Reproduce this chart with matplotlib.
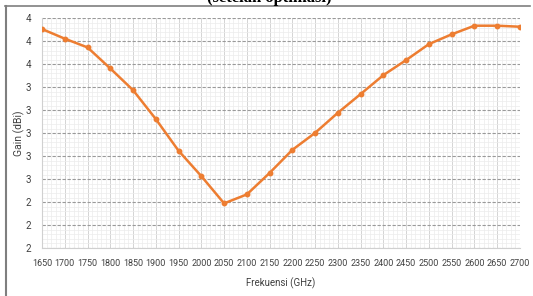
import matplotlib.pyplot as plt
from matplotlib.ticker import MultipleLocator, AutoMinorLocator, FormatStrFormatter
from matplotlib.lines import Line2D

# gain antena setelah optimasi
freq = [1650, 1700, 1750, 1800, 1850, 1900, 1950, 2000, 2050, 2100, 2150,
        2200, 2250, 2300, 2350, 2400, 2450, 2500, 2550, 2600, 2650, 2700]
gain = [3.907, 3.823, 3.747, 3.564, 3.375, 3.123, 2.847, 2.626, 2.389, 2.467, 2.654,
        2.855, 3.003, 3.178, 3.341, 3.506, 3.637, 3.776, 3.861, 3.936, 3.936, 3.927]

plt.rcParams['font.family'] = ['Roboto', 'DejaVu Sans']

fig = plt.figure(figsize=(5.33, 2.96), dpi=100)
ax = fig.add_axes([0.0788, 0.162, 0.8968, 0.776])

ax.plot(freq, gain, color='#ED7D31', linewidth=1.8, marker='o', markersize=3.2,
        zorder=5)

ax.set_xlim(1650, 2700)
ax.set_ylim(2.0, 4.0)
ax.xaxis.set_major_locator(MultipleLocator(50))
ax.yaxis.set_major_locator(MultipleLocator(0.2))
ax.xaxis.set_minor_locator(AutoMinorLocator(5))
ax.yaxis.set_minor_locator(AutoMinorLocator(5))
ax.yaxis.set_major_formatter(FormatStrFormatter('%.0f'))

ax.grid(which='minor', color='#ececec', linewidth=0.5)
ax.grid(which='major', axis='x', color='#d4d4d4', linewidth=0.7)
ax.grid(which='major', axis='y', color='#9a9a9a', linewidth=0.8, linestyle=(0, (3, 1.5)))
ax.set_axisbelow(True)

for s in ['top', 'right']:
    ax.spines[s].set_visible(False)
ax.spines['left'].set_color('#d0d0d0')
ax.spines['bottom'].set_color('#d0d0d0')

ax.tick_params(which='both', length=0)
ax.tick_params(axis='x', labelsize=6.5, pad=8, colors='#404040')
ax.tick_params(axis='y', labelsize=7, pad=8, colors='#404040')

ax.set_xlabel('Frekuensi (GHz)', fontsize=7, color='#404040', labelpad=7)
ax.set_ylabel('Gain (dBi)', fontsize=7.5, color='#404040')
ax.yaxis.set_label_coords(-0.036, 0.5)

# bingkai luar dan judul yang terpotong
fig.add_artist(Line2D([5 / 533, 530 / 533], [1 - 6 / 296, 1 - 6 / 296],
                      color='#7f7f7f', linewidth=1.2, transform=fig.transFigure))
fig.add_artist(Line2D([5.5 / 533, 5.5 / 533], [1 - 6 / 296, 0],
                      color='#7f7f7f', linewidth=1.5, transform=fig.transFigure))
fig.text(0.505, 1 - 2 / 296, '(setelah optimasi)', fontsize=12, fontweight='bold',
         family='Liberation Serif', ha='center', va='baseline')

fig.savefig('out.png', dpi=100)
